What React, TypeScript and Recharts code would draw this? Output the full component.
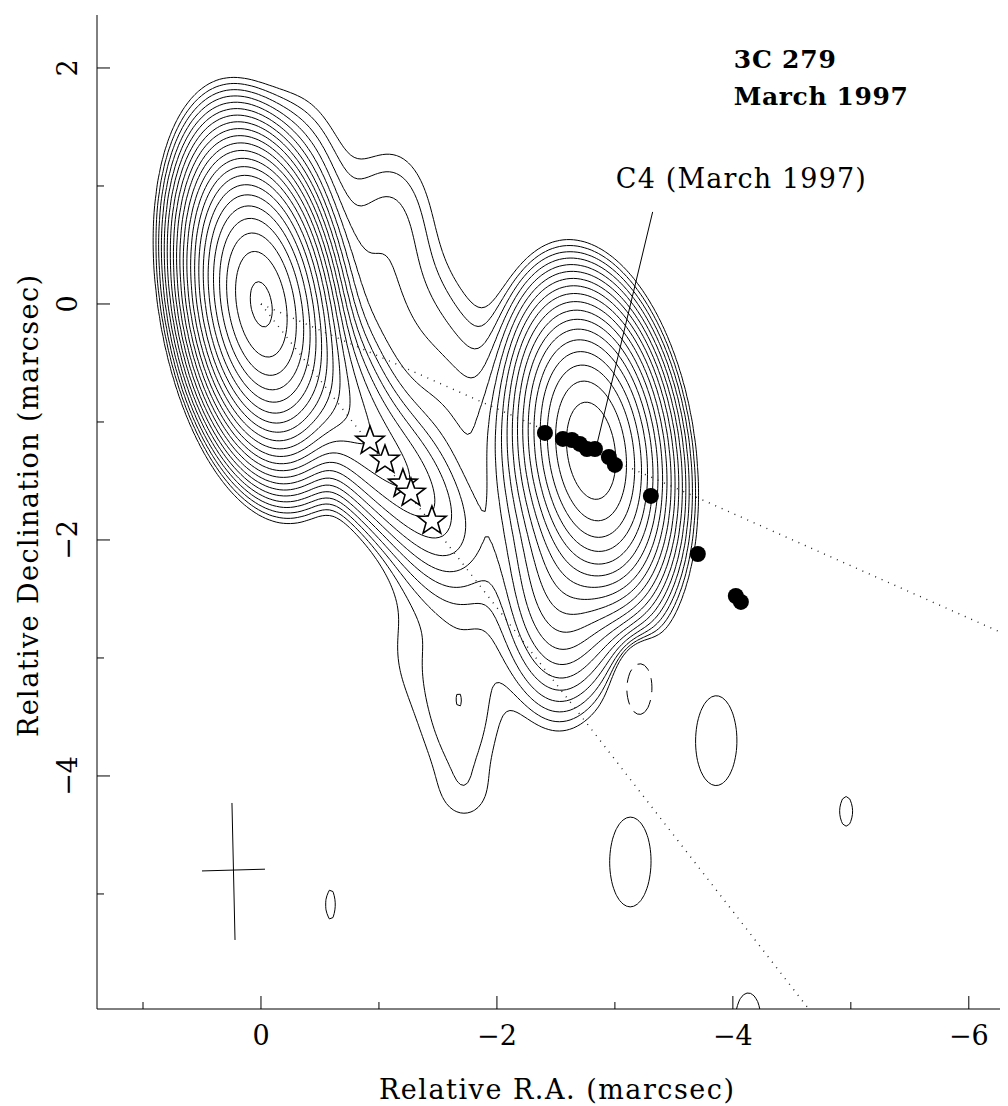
import React from "react";
import { ComposedChart, XAxis, YAxis, Line, Scatter } from "recharts";

const raMin = -6.4;
const raMax = 1.39;
const decMin = -5.975;
const decMax = 2.449;

const xTicks = [1, 0, -1, -2, -3, -4, -5, -6];
const yTicks = [2, 1, 0, -1, -2, -3, -4, -5];

// contour levels, lowest level = 1, steps of sqrt(2)
const posLevels = [1, 1.414, 2, 2.828, 4, 5.657, 8, 11.31, 16, 22.63, 32, 45.25, 64, 90.51, 128, 181, 256, 362, 512, 724, 1024, 1448, 2048];
const negLevels = [-1];

// brightness model (gaussian components, mas)
const compName = ["core", "NE", "N2", "shoulder", "R1", "J1", "J2", "J3", "S1", "M", "K", "C4", "tail1", "tail2", "W", "lobe", "lobe2", "neg", "I1", "I2", "I3", "I4", "I5"];
const compRA = [0, 0.3, -0.3, -1.12, -1.1, -0.45, -0.95, -1.3, -1.5, -1.55, -2.25, -2.8, -2.55, -2.5, -1.22, -1.7, -1.75, -3.18, -3.86, -3.13, -4.96, -0.59, -4.13];
const compDec = [0, 0.8, 1.0, 0.78, -0.2, -0.5, -1.2, -1.6, -2.0, -1.12, -1.45, -1.24, -2.3, -3.0, -2.9, -3.42, -4.2, -3.15, -3.7, -4.73, -4.3, -5.09, -6.05];
const compPeak = [1550, 4, 2.5, 1.5, 2.8, 45, 16, 9, 3.5, 2.2, 7, 500, 22, 0.8, 0.85, 1.9, 0.45, -2, 1.35, 1.35, 1.04, 1.04, 1.15];
const compSx = [0.225, 0.25, 0.25, 0.25, 0.45, 0.225, 0.23, 0.23, 0.25, 0.3, 0.25, 0.25, 0.25, 0.22, 0.25, 0.26, 0.22, 0.13, 0.225, 0.225, 0.2, 0.15, 0.2];
const compSy = [0.49, 0.5, 0.5, 0.45, 0.8, 0.49, 0.45, 0.45, 0.45, 0.45, 0.5, 0.51, 0.5, 0.45, 0.5, 0.6, 0.2, 0.31, 0.49, 0.49, 0.45, 0.45, 0.4];
const compTilt = [9, 0, 0, 0, 35, 30, 38, 38, 25, 0, 0, 8, 0, 0, 0, 0, 0, 5, 0, 0, 0, 0, 0];

// C4 model-fit positions (filled circles)
const c4RA = [-2.407, -2.559, -2.636, -2.703, -2.763, -2.831, -2.949, -3.0, -3.305, -3.703, -4.025, -4.068];
const c4Dec = [-1.093, -1.144, -1.153, -1.186, -1.229, -1.229, -1.297, -1.364, -1.627, -2.119, -2.475, -2.525];

// star markers
const starRA = [-0.924, -1.051, -1.203, -1.271, -1.449];
const starDec = [-1.161, -1.322, -1.525, -1.602, -1.839];

// guide lines
const pathA_RA = [0, -6.4];
const pathA_Dec = [0, -2.84];
const pathB_RA = [0, -4.643];
const pathB_Dec = [0, -5.975];
const pointerRA = [-3.32, -2.85];
const pointerDec = [0.78, -1.18];
const beamH_RA = [0.5, -0.034];
const beamH_Dec = [-4.805, -4.79];
const beamV_RA = [0.246, 0.22];
const beamV_Dec = [-4.229, -5.39];

const toPts = (xs: number[], ys: number[]) => xs.map((x, i) => ({ x, y: ys[i] }));

function fieldAt(ra: number, dec: number) {
  let s = 0;
  for (let k = 0; k < compRA.length; k++) {
    const dx = ra - compRA[k];
    const dy = dec - compDec[k];
    const t = (compTilt[k] * Math.PI) / 180;
    const u = (dx * Math.cos(t) - dy * Math.sin(t)) / compSx[k];
    const v = (dx * Math.sin(t) + dy * Math.cos(t)) / compSy[k];
    s += compPeak[k] * Math.exp(-0.5 * (u * u + v * v));
  }
  return s;
}

const STEP = 0.03;
const gx: number[] = [];
const gy: number[] = [];
for (let x = raMin; x <= raMax + 1e-9; x += STEP) gx.push(x);
for (let y = decMin; y <= decMax + 1e-9; y += STEP) gy.push(y);
const nx = gx.length;
const ny = gy.length;
const field = new Float64Array(nx * ny);
for (let j = 0; j < ny; j++) for (let i = 0; i < nx; i++) field[j * nx + i] = fieldAt(gx[i], gy[j]);

function traceLevel(lev: number) {
  const nH = nx * ny;
  const links = new Map<number, number[]>();
  const val = (i: number, j: number) => field[j * nx + i];
  const link = (p: number, q: number) => {
    if (!links.has(p)) links.set(p, []);
    if (!links.has(q)) links.set(q, []);
    links.get(p)!.push(q);
    links.get(q)!.push(p);
  };
  for (let j = 0; j < ny - 1; j++) {
    for (let i = 0; i < nx - 1; i++) {
      const a = val(i, j) >= lev;
      const b = val(i + 1, j) >= lev;
      const c = val(i + 1, j + 1) >= lev;
      const d = val(i, j + 1) >= lev;
      if (a === b && b === c && c === d) continue;
      const bottom = j * nx + i;
      const top = (j + 1) * nx + i;
      const left = nH + j * nx + i;
      const right = nH + j * nx + i + 1;
      const cross: number[] = [];
      if (a !== b) cross.push(bottom);
      if (b !== c) cross.push(right);
      if (c !== d) cross.push(top);
      if (d !== a) cross.push(left);
      if (cross.length === 2) link(cross[0], cross[1]);
      else {
        const center = (val(i, j) + val(i + 1, j) + val(i + 1, j + 1) + val(i, j + 1)) / 4 >= lev;
        if (center === a) {
          link(bottom, right);
          link(top, left);
        } else {
          link(bottom, left);
          link(top, right);
        }
      }
    }
  }
  const edgePoint = (key: number) => {
    if (key < nH) {
      const j = Math.floor(key / nx);
      const i = key % nx;
      const va = val(i, j);
      const vb = val(i + 1, j);
      const t = (lev - va) / (vb - va);
      return { x: gx[i] + t * (gx[i + 1] - gx[i]), y: gy[j] };
    }
    const k = key - nH;
    const j = Math.floor(k / nx);
    const i = k % nx;
    const va = val(i, j);
    const vb = val(i, j + 1);
    const t = (lev - va) / (vb - va);
    return { x: gx[i], y: gy[j] + t * (gy[j + 1] - gy[j]) };
  };
  const used = new Set<number>();
  const lines: { x: number; y: number }[][] = [];
  const walk = (start: number) => {
    const keys = [start];
    used.add(start);
    let cur = start;
    for (;;) {
      const nb = links.get(cur)!;
      let next = -1;
      for (const n of nb) if (!used.has(n)) { next = n; break; }
      if (next < 0) {
        if (keys.length > 2 && nb.includes(start)) keys.push(start);
        break;
      }
      keys.push(next);
      used.add(next);
      cur = next;
    }
    return keys.map(edgePoint);
  };
  for (const [k, nb] of links) if (nb.length === 1 && !used.has(k)) lines.push(walk(k));
  for (const k of links.keys()) if (!used.has(k)) lines.push(walk(k));
  return lines;
}

const contours: { pts: { x: number; y: number }[]; dashed: boolean }[] = [];
posLevels.forEach((lev) => traceLevel(lev).forEach((pts) => contours.push({ pts, dashed: false })));
negLevels.forEach((lev) => traceLevel(lev).forEach((pts) => contours.push({ pts, dashed: true })));

const labels = [
  { x: -4.008, y: 2.0, text: "3C 279", bold: true, len: 102 },
  { x: -4.008, y: 1.686, text: "March 1997", bold: true, len: 174 },
  { x: -3.008, y: 0.983, text: "C4 (March 1997)", bold: false, len: 250 },
];

const FONT = "'DejaVu Serif', serif";
const fmt = (v: number) => (v < 0 ? "\u2212" + Math.abs(v) : String(v));

function BottomTick(p: any) {
  const v = p.payload.value;
  const major = v % 2 === 0;
  return (
    <g>
      <line x1={p.x} x2={p.x} y1={p.y} y2={p.y - (major ? 13 : 7)} stroke="#000" />
      {major && (
        <text x={p.x} y={p.y + 36} textAnchor="middle" fontFamily={FONT} fontSize={27} fill="#000">
          {fmt(v)}
        </text>
      )}
    </g>
  );
}
function TopTick(p: any) {
  const major = p.payload.value % 2 === 0;
  return <line x1={p.x} x2={p.x} y1={p.y} y2={p.y + (major ? 13 : 7)} stroke="#000" />;
}
function LeftTick(p: any) {
  const v = p.payload.value;
  const major = v % 2 === 0;
  const bx = 69;
  return (
    <g>
      <line x1={p.x} x2={p.x + (major ? 13 : 7)} y1={p.y} y2={p.y} stroke="#000" />
      {major && (
        <text x={bx} y={p.y} transform={`rotate(-90, ${bx}, ${p.y})`} textAnchor="middle" fontFamily={FONT} fontSize={27} fill="#000">
          {fmt(v)}
        </text>
      )}
    </g>
  );
}
function RightTick(p: any) {
  const major = p.payload.value % 2 === 0;
  return <line x1={p.x} x2={p.x - (major ? 13 : 7)} y1={p.y} y2={p.y} stroke="#000" />;
}

function starPath(cx: number, cy: number, R: number, r: number) {
  let d = "";
  for (let k = 0; k < 10; k++) {
    const ang = -Math.PI / 2 + (k * Math.PI) / 5;
    const rad = k % 2 === 0 ? R : r;
    d += (k === 0 ? "M" : "L") + (cx + rad * Math.cos(ang)).toFixed(2) + "," + (cy + rad * Math.sin(ang)).toFixed(2);
  }
  return d + "Z";
}

export default function App() {
  return (
    <div style={{ width: 1000, height: 1098, overflow: "hidden" }}>
      <ComposedChart width={1013} height={1098} margin={{ top: 7, right: 5, bottom: 0, left: 0 }}>
        <XAxis
          xAxisId={0}
          dataKey="x"
          type="number"
          domain={[raMin, raMax]}
          reversed
          allowDataOverflow
          ticks={xTicks}
          interval={0}
          orientation="bottom"
          height={97}
          tickSize={0}
          tickMargin={0}
          tickLine={false}
          axisLine={{ stroke: "#000" }}
          tick={<BottomTick />}
          label={{
            content: (props: any) => (
              <text x={props.viewBox.x + props.viewBox.width / 2} y={props.viewBox.y + 90} textAnchor="middle" fontFamily={FONT} fontSize={27} textLength={355} lengthAdjust="spacing">
                Relative R.A. (marcsec)
              </text>
            ),
          }}
        />
        <XAxis
          xAxisId="top"
          dataKey="x"
          type="number"
          domain={[raMin, raMax]}
          reversed
          allowDataOverflow
          ticks={xTicks}
          interval={0}
          orientation="top"
          height={0}
          tickSize={0}
          tickMargin={0}
          tickLine={false}
          axisLine={{ stroke: "#000" }}
          tick={<TopTick />}
        />
        <YAxis
          yAxisId={0}
          dataKey="y"
          type="number"
          domain={[decMin, decMax]}
          allowDataOverflow
          ticks={yTicks}
          interval={0}
          orientation="left"
          width={89}
          tickSize={0}
          tickMargin={0}
          tickLine={false}
          axisLine={{ stroke: "#000" }}
          tick={<LeftTick />}
          label={{
            content: (props: any) => {
              const cy = props.viewBox.y + props.viewBox.height / 2 - 6;
              return (
                <text x={30} y={cy} transform={`rotate(-90, 30, ${cy})`} textAnchor="middle" fontFamily={FONT} fontSize={27} textLength={462} lengthAdjust="spacing">
                  Relative Declination (marcsec)
                </text>
              );
            },
          }}
        />
        <YAxis
          yAxisId="right"
          dataKey="y"
          type="number"
          domain={[decMin, decMax]}
          allowDataOverflow
          ticks={yTicks}
          interval={0}
          orientation="right"
          width={0}
          tickSize={0}
          tickMargin={0}
          tickLine={false}
          axisLine={{ stroke: "#000" }}
          tick={<RightTick />}
        />

        {contours.map((c, i) => (
          <Line
            key={"c" + i}
            data={c.pts}
            dataKey="y"
            stroke="#000"
            strokeWidth={1}
            strokeDasharray={c.dashed ? "14 8" : undefined}
            dot={false}
            activeDot={false}
            isAnimationActive={false}
          />
        ))}

        <Line data={toPts(pathA_RA, pathA_Dec)} dataKey="y" stroke="#222" strokeWidth={1.4} strokeDasharray="1 6" dot={false} activeDot={false} isAnimationActive={false} />
        <Line data={toPts(pathB_RA, pathB_Dec)} dataKey="y" stroke="#222" strokeWidth={1.4} strokeDasharray="1 6" dot={false} activeDot={false} isAnimationActive={false} />
        <Line data={toPts(pointerRA, pointerDec)} dataKey="y" stroke="#000" strokeWidth={1} dot={false} activeDot={false} isAnimationActive={false} />
        <Line data={toPts(beamH_RA, beamH_Dec)} dataKey="y" stroke="#000" strokeWidth={1} dot={false} activeDot={false} isAnimationActive={false} />
        <Line data={toPts(beamV_RA, beamV_Dec)} dataKey="y" stroke="#000" strokeWidth={1} dot={false} activeDot={false} isAnimationActive={false} />

        <Scatter
          data={toPts(c4RA, c4Dec)}
          isAnimationActive={false}
          shape={(p: any) => <circle cx={p.cx} cy={p.cy} r={8} fill="#000" />}
        />
        <Scatter
          data={toPts(starRA, starDec)}
          isAnimationActive={false}
          shape={(p: any) => <path d={starPath(p.cx, p.cy, 15, 6.2)} fill="#fff" stroke="#000" strokeWidth={1.6} strokeLinejoin="miter" />}
        />
        <Scatter
          data={labels}
          isAnimationActive={false}
          shape={(p: any) => (
            <text
              x={p.cx}
              y={p.cy}
              fontFamily={FONT}
              fontSize={p.payload.bold ? 25 : 27}
              fontWeight={p.payload.bold ? "bold" : "normal"}
              textLength={p.payload.len}
              lengthAdjust="spacing"
              fill="#000"
            >
              {p.payload.text}
            </text>
          )}
        />
      </ComposedChart>
    </div>
  );
}
